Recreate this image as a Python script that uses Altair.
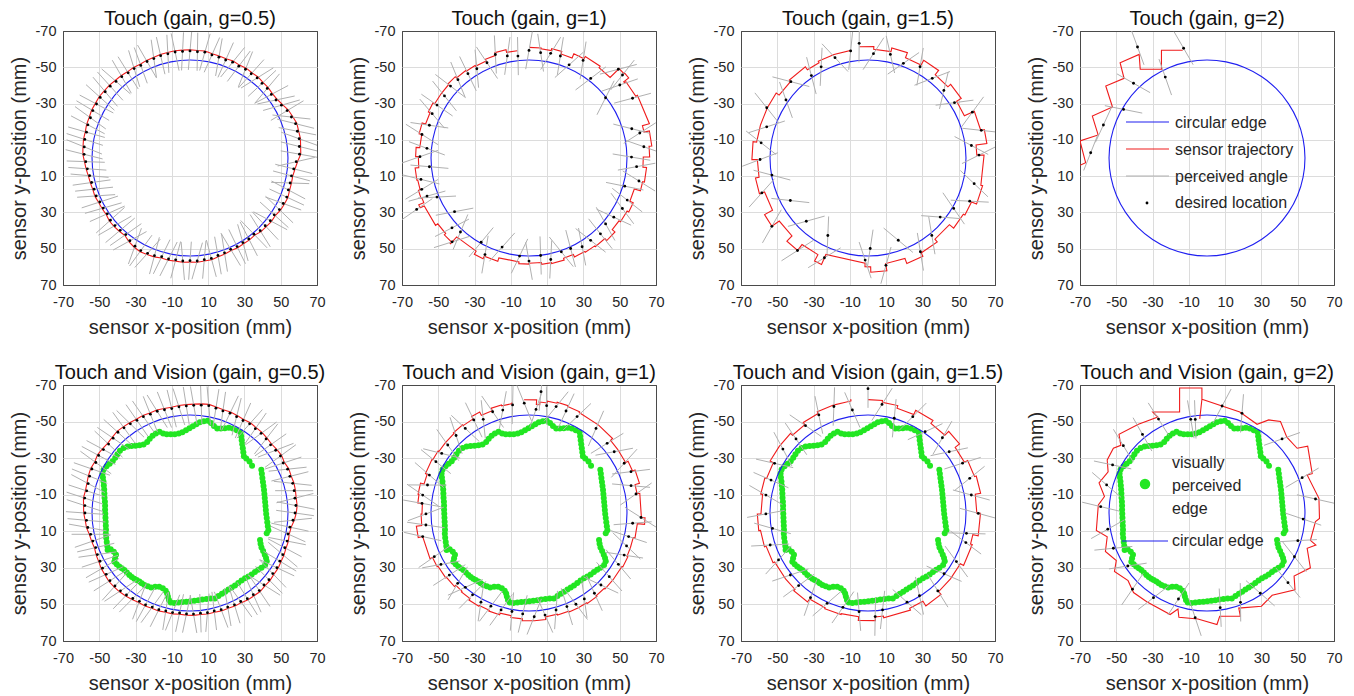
import math
import altair as alt
import pandas as pd

FONT = "Liberation Sans"
PW, PH_TOP, PH_BOT = 254, 254, 256
TICKS = [-70, -50, -30, -10, 10, 30, 50, 70]
CIRCLE_R = 54.0       # circular edge radius (mm), centred on (0, 0)
HALF_LEN = 10.5       # half length of a perceived-angle segment (mm)
START = -95.0         # angle where each sensor trajectory starts (deg)
BLUE, RED, GREY, GREEN = "#1f1ff0", "#f01c1c", "#b0b0b0", "#22e622"

TITLES = ["Touch (gain, g=0.5)", "Touch (gain, g=1)", "Touch (gain, g=1.5)", "Touch (gain, g=2)",
          "Touch and Vision (gain, g=0.5)", "Touch and Vision (gain, g=1)",
          "Touch and Vision (gain, g=1.5)", "Touch and Vision (gain, g=2)"]

# ---------------- Touch, g=0.5 : desired locations (polar, deg / mm) ----------------
T05_TH = [-90, -86, -82, -78, -74, -70, -66, -62, -58, -54, -50, -46, -42, -38, -34, -30, -26, -22, -18, -14,
          -10, -6, -2, 2, 6, 10, 14, 18, 22, 26, 30, 34, 38, 42, 46, 50, 54, 58, 62, 66,
          70, 74, 78, 82, 86, 90, 94, 98, 102, 106, 110, 114, 118, 122, 126, 130, 134, 138, 142, 146,
          150, 154, 158, 162, 166, 170, 174, 178, 182, 186, 190, 194, 198, 202, 206, 210, 214, 218, 222, 226,
          230, 234, 238, 242, 246, 250, 254, 258, 262, 266]
T05_R = [59.0, 58.7, 58.9, 58.1, 57.8, 57.5, 57.8, 57.3, 57.7, 57.4, 57.6, 57.2, 57.3, 56.9, 57.2, 58.2, 59.6, 60.3, 61.2, 61.0,
         61.1, 60.6, 60.4, 58.6, 57.5, 56.8, 56.9, 57.0, 57.5, 57.2, 56.9, 56.0, 56.2, 55.8, 55.7, 54.8, 55.1, 55.0, 55.3, 55.1,
         55.6, 55.9, 56.6, 56.6, 56.9, 56.6, 56.9, 56.7, 56.9, 56.6, 57.3, 57.5, 57.8, 57.3, 56.4, 55.1, 55.4, 55.7, 55.7, 55.0,
         55.2, 55.3, 55.8, 55.6, 55.9, 56.2, 56.9, 57.5, 58.4, 58.6, 58.9, 58.8, 59.2, 59.2, 59.6, 59.5, 59.7, 59.3, 59.2, 58.7,
         58.5, 58.0, 58.1, 57.8, 58.2, 58.3, 58.7, 58.7, 59.0, 58.9]
T05_TILT = [5, -3, 8, 12, -6, 4, 15, 9, -10, 6, 18, 3, -8, 10, 22, 14, -5, 28, 32, 25,
            30, 20, 12, -15, 8, 5, -12, 10, 3, -6, 14, 8, -10, 5, 12, -4, 9, 16, 2, -7,
            11, 6, -3, 13, 20, 4, -9, 7, 15, 10, -5, 18, 8, -12, 25, 15, 6, 12, -4, 10,
            14, 8, 18, 12, 6, 15, 10, 4, 12, 16, 8, 2, 10, 14, 5, -2, 8, 12, 6, -5,
            10, 4, 15, 8, -6, 12, 3, 9, -4, 7]

# ---------------- Touch, g=1 ----------------
T1_TH = [-90, -83.7, -78.3, -72.9, -66.7, -61, -52.2, -44.8, -41.6, -38.8, -38.2, -30, -15.9, -12.7, -5.6, -0.5, 4.6, 11.8, 16.4, 23.2,
         28.4, 34.9, 40.7, 46.7, 53.2, 59.1, 65.3, 71, 77.9, 83.2, 90, 95.5, 106.8, 114.5, 119.6, 132.5, 132.8, 137.8, 144.2, 155.4,
         157, 159.5, 163.7, 168.8, 175, 180.7, 185.4, 192.4, 198.2, 204.6, 209.9, 216.3, 222.5, 227.8, 234.1, 239.7, 246.2, 252, 258, 263.8]
T1_R = [59.3, 58.4, 58.9, 58.8, 55.9, 61.5, 55.5, 69.4, 68.9, 64.2, 53.7, 65.9, 58.9, 62.6, 63.6, 56.5, 59.5, 61.9, 55, 58.9,
        58.5, 57, 55.7, 57.4, 56.7, 57, 54.9, 54.7, 57.2, 54.1, 56.8, 54.3, 51.3, 58.5, 53.4, 62.7, 55.6, 57.3, 50.6, 68.1,
        55.1, 60, 61.6, 60.7, 55.1, 60.1, 56.5, 60.4, 57.8, 58.7, 58.5, 57.8, 58.7, 58.3, 57.4, 57, 57.4, 60, 57.5, 56.5]
T1_TRAJ = [61, 60.5, 61.5, 60, 62.5, 64, 63, 70, 70.5, 67, 68, 69, 65, 68, 66.5, 63, 65, 64, 60.5, 62.5,
           61.5, 60.5, 62.5, 61, 60.5, 60, 58.5, 59.5, 59, 58, 58.5, 57.5, 59.5, 61, 59, 64, 63, 62, 63.5, 66,
           63, 63.5, 62.5, 63, 61, 62.5, 60.5, 62, 60, 61, 60, 60, 60.5, 59.5, 59, 58.5, 59.5, 61, 59.5, 59.5]
T1_TILT = [10, -15, 20, -8, 25, -20, 15, 30, -10, 20, -25, 15, 30, -20, 25, 10, -15, 20, -5, 15,
           25, -10, 20, 5, -15, 20, 10, -20, 15, 5, -10, 20, 25, -15, 10, 30, -20, 15, 25, -10,
           20, 5, -15, 25, 10, -20, 15, 20, -10, 25, 5, 15, -5, 20, 10, 25, -10, 15, 20, 5]

# ---------------- Touch, g=1.5 ----------------
T15_TH = [-94.4, -87, -77.8, -69.5, -60.3, -51.1, -41.7, -32.6, -23.7, -13.7, -6.9, -1.5, 13.6, 23, 30.5, 39.3, 50.5, 60.8, 69.8, 80.5,
          88.6, 91.6, 113.6, 117.4, 127.3, 134.3, 144.6, 151.3, 161.8, 169.9, 179.2, 188.1, 197.1, 206.4, 215.3, 224.7, 235.5, 242.8, 251.8, 260.8]
T15_R = [63.4, 57.6, 58.4, 55.7, 57.9, 56.4, 56, 56.6, 62.8, 64.3, 57.4, 61.2, 60.2, 60.9, 54.8, 51.4, 55.3, 59.2, 48.3, 60,
         49.9, 56.3, 60, 48.1, 64.1, 48.7, 65, 48.8, 61.6, 53.8, 59.5, 59.5, 58.4, 62.3, 55.4, 59.8, 55.1, 56.5, 58.2, 59.8]
T15_TRAJ = [61.5, 60, 62, 59, 62, 59, 61, 58, 64, 66, 60, 64, 65, 62, 61, 58, 60, 62, 59, 63,
            60, 58, 64, 60, 64, 60, 65, 60, 63, 61, 64, 62, 62, 62, 60, 61, 59, 60, 60, 59.5]
T15_TILT = [5, 30, -25, 35, -20, 30, -35, 25, -30, 20, 35, -25, 30, -20, 25, -35, 30, 20, -30, 25,
            10, -20, 35, -25, 20, 30, -25, 35, -30, 25, -20, 30, -35, 25, 35, -30, 20, 30, -25, 15]

# ---------------- Touch, g=2 (cartesian, mm) ----------------
T2_X = [-64.1, -57.1, -46.0, -40.5, -38.3, -23.0, -12.9]
T2_Y = [-2.9, -18.2, -26.8, -41.2, -61.2, -44.6, -60.5]
T2_TILT = [-71, -83, -19, -16, 12, 8, -18]
T2_TRAJ_X = [-70.0, -66.9, -70.0, -60.0, -63.2, -52.1, -55.8, -45.7, -47.9, -37.4, -36.8, -25.1, -25.1, -13.4]
T2_TRAJ_Y = [4.0, 2.6, -9.4, -12.7, -23.1, -28.1, -39.7, -43.9, -52.5, -57.1, -48.9, -48.9, -59.4, -59.4]

# ---------------- Touch and Vision, g=0.5 ----------------
TV05_TH = [-88, -84, -80, -76, -72, -68, -64, -60, -56, -52, -48, -44, -40, -36, -32, -28, -24, -20, -16, -12,
           -8, -4, 0, 4, 8, 12, 16, 20, 24, 28, 32, 36, 40, 44, 48, 52, 56, 60, 64, 68,
           72, 76, 80, 84, 88, 92, 96, 100, 104, 108, 112, 116, 120, 124, 128, 132, 136, 140, 144, 148,
           152, 156, 160, 164, 168, 172, 176, 180, 184, 188, 192, 196, 200, 204, 208, 212, 216, 220, 224, 228,
           232, 236, 240, 244, 248, 252, 256, 260, 264, 268]
TV05_R = [58.9, 59.3, 59.6, 59.1, 58.7, 58.9, 58.6, 58.4, 58.8, 58.5, 58.6, 58.3, 58.0, 58.4, 58.8, 58.2, 58.9, 58.6, 58.9, 58.7,
          58.4, 58.5, 57.9, 56.9, 55.6, 55.2, 55.7, 55.6, 56.0, 56.1, 56.5, 56.4, 56.8, 56.7, 57.1, 56.7, 56.5, 55.9, 55.9, 55.5,
          55.6, 55.2, 55.4, 55.1, 55.3, 55.2, 55.0, 55.3, 55.2, 55.6, 55.5, 55.9, 55.8, 56.4, 56.9, 57.3, 57.5, 57.6, 57.1, 56.9,
          56.2, 55.9, 55.3, 55.7, 56.0, 56.9, 57.2, 57.9, 58.1, 58.6, 58.2, 58.4, 58.9, 59.2, 58.8, 59.4, 59.0, 58.6, 58.9, 59.4,
          59.1, 58.8, 58.5, 58.6, 58.3, 58.5, 58.2, 58.0, 58.4, 58.6]
TV05_TILT = [-12, -8, -15, -5, -10, 4, -12, -6, 8, -3, 12, -8, 5, 15, -4, 10, 18, 6, 22, 12,
             -6, 15, 8, -10, 4, 12, -5, 8, 16, 3, -7, 10, 5, -12, 8, 14, 2, -6, 9, 12,
             -3, 7, 15, 4, -8, 10, 6, 12, -5, 9, 14, 3, -9, 11, 6, 15, -4, 8, 12, 2,
             10, 16, 7, -3, 12, 18, 9, 4, 14, 10, 6, 12, 2, -5, 8, -4, -8, 3, -10, -6,
             2, -12, -5, -9, 0, -14, -8, -4, -12, -7]

# ---------------- Touch and Vision, g=1 ----------------
TV1_TH = [-84.3, -86.1, -92.5, -98.7, -104.4, -109.9, -116.2, -120.9, -127.2, -133.5, -140.3, -145.9, -151.3, -159.3, -164.7,
          -170.5, -174.9, 179.5, 173.4, 167.6, 155.4, 149.9, 142.3, 135.6, 130.8, 124.8, 118.5, 112.4, 106.2, 99.9,
          93.6, 87.1, 81, 74.3, 67.8, 62.6, 57, 50.6, 44.8, 38.2, 29.7, 23.7, 18.5, 13.2, 5.6,
          2.3, -10, -14.9, -21.9, -27.4, -35.5, -41.5, -51.4, -63.3, -69.9, -75.6, -80.6]
TV1_R = [66.7, 56.8, 60.1, 59.8, 58.1, 58.9, 57.1, 59.3, 58.1, 58.4, 58.2, 58.1, 58.5, 58.7, 58,
         59.4, 59.2, 56.8, 57.2, 60, 57.4, 56.1, 55.5, 55, 53.7, 54.5, 55.5, 55.1, 55.2, 54.7,
         55.3, 56.8, 56.5, 55.1, 55.3, 56.2, 56, 56.8, 55.9, 56.3, 56.7, 57.3, 56.7, 56.4, 57.4,
         61.8, 59.9, 58.2, 60.6, 59.1, 57.7, 57.5, 59.2, 59, 59.4, 60.1, 59.5]
TV1_TRAJ = [61, 59.5, 62, 61.5, 60.5, 61, 59.5, 61.5, 60, 60.5, 60, 60, 60.5, 61, 60,
            62, 61.5, 59, 59.5, 62.5, 60, 58.5, 58, 57.5, 56.5, 57, 58, 57.5, 58, 57,
            58, 59, 59, 57.5, 58, 58.5, 58.5, 59, 58.5, 59, 59, 59.5, 59, 59, 60,
            64, 62, 60.5, 63, 61.5, 60, 60, 61.5, 61.5, 62, 62.5, 62]
TV1_TILT = [0, 15, -20, 10, 25, -15, 20, 5, -10, 25, 15, -20, 10, 20, -15,
            25, 5, -20, 15, 25, -10, 20, 5, -15, 25, 10, -20, 15, 20, -5,
            10, 25, -15, 20, 5, -10, 25, 15, -20, 10, 20, -15, 25, 5, -10,
            30, -25, 20, 15, -20, 25, 10, -15, 20, 5, 25, -10]

# ---------------- Touch and Vision, g=1.5 ----------------
TV15_TH = [-90, -107.9, -98.7, -82.6, -74.4, -64.9, -54.7, -45.1, -36.8, -27.6, -18.7, -9.8, 0.2, 11.6, 16.7, 28.6, 38.4, 47.9, 57.9, 66.2,
           81.4, 86, 95.2, 105, 114.5, 124.4, 133.9, 141.6, 152.5, 162, 170.9, 179.5, -170.1, -161.4, -152.2, -143.3, -134.4, -125.8, -116.8]
TV15_R = [68, 61.2, 57, 59.9, 53.8, 58.2, 54.5, 58.1, 55.9, 58.8, 59.2, 57.8, 60.8, 55.4, 56.3, 55.5, 53.5, 57.4, 53.4, 53.3,
          53.6, 56.8, 54.2, 53.4, 54.3, 56.1, 55.1, 54.6, 55.6, 56.7, 53.3, 56.3, 57.1, 56.4, 58.2, 58.5, 56.7, 58.9, 60.1]
TV15_TRAJ = [62, 62, 63, 61, 59.5, 62, 60, 63, 60, 62, 63, 60, 62, 59, 60, 58, 58, 60, 57, 58,
             57, 59, 57, 57.5, 57, 59, 58, 58, 59, 60, 61, 59, 60, 59, 61, 61, 59.5, 61, 62]
TV15_TILT = [0, 20, -15, 25, -10, 20, 30, -15, 25, 10, -20, 25, 15, -10, 20, 25, -15, 10, 20, -25,
             15, 5, -10, 20, 25, -15, 10, 20, -20, 15, 25, -10, 20, 5, -15, 25, 10, -20, 15]

# ---------------- Touch and Vision, g=2 ----------------
TV2_TH = [-99.9, -97.2, -81.9, -70.5, -44.4, -20.2, -7.3, 3.6, 16.8, 26.4, 40.5, 56.2, 69.3, 82, 96.5,
          108.5, 122.5, 134.6, 146.4, 159.5, 170.8, -176.6, -164.5, -153.2, -141.4, -129.6, -117.5]
TV2_R = [52, 51.6, 59.1, 57.8, 57.9, 55.9, 60.3, 53.1, 52.3, 53.8, 58.7, 52.8, 52.2, 52.3, 57.6,
         49.6, 54.9, 58.5, 52.4, 55.1, 55.4, 58.7, 57.4, 58.3, 59, 55.8, 57.9]
TV2_TILT = [0, 5, 20, -15, 25, -10, 20, 15, -20, 25, 10, -15, 20, 5, -25, 15, 20, -10, 25, 15, -20, 10, 25, -15, 20, 10, -5]
TV2_TRAJ_X = [-4.0, -2.8, 18.1, 27.6, 34.0, 40.5, 44.0, 49.7, 55.5, 58.0, 55.2, 61.7, 62.0, 59.8, 57.0, 60.0, 55.2, 57.0,
              48.0, 48.5, 35.9, 30.0, 17.5, 18.4, 7.0, 5.5, -5.0, -15.5, -16.0, -20.3, -33.2, -40.5, -43.5, -51.0, -50.0,
              -56.0, -55.0, -61.0, -59.9, -56.5, -59.5, -54.5, -55.0, -51.6, -47.5, -48.5, -37.8, -27.1, -29.9, -15.1,
              -15.1, -2.8, -2.8]
TV2_TRAJ_Y = [-51.5, -62.2, -55.2, -48.5, -50.9, -50.0, -41.5, -35.4, -36.5, -21.5, -20.8, -8.0, 3.0, 4.7, 15.0, 17.5, 19.3, 30.0,
              34.5, 42.0, 45.0, 51.0, 52.0, 56.5, 56.5, 61.0, 58.0, 57.0, 52.5, 55.5, 48.5, 43.5, 37.0, 32.0, 26.0,
              21.0, 13.0, 9.5, -4.4, -9.0, -16.5, -22.5, -29.0, -35.4, -37.0, -43.0, -48.5, -52.5, -55.2, -55.2,
              -68.4, -68.4, -62.2]

# ---------------- visually perceived edge (same in all Touch-and-Vision panels) ----------------
GREEN_X = [-45.4, -45.6, -45.9, -46.2, -46.4, -46.3, -46.4, -46.5, -46.6, -46.7, -46.8, -46.8, -46.9, -47.1, -47.2, -47.3, -47.5, -47.7, -48.0, -48.2,
           -47.6, -46.0, -44.3, -42.6, -41.2, -40.0, -38.6, -36.6, -34.4, -32.2, -30.0, -27.8, -25.6, -23.6, -22.2, -20.6, -18.8, -16.8,
           -14.8, -12.8, -10.6, -8.4, -6.2, -4.2, -2.2, -0.3, 1.6, 3.5, 5.4, 7.6, 9.8, 11.6, 13.2, 15.0, 17.0, 19.2, 21.4, 23.6, 25.8, 27.9,
           28.2, 28.5, 28.8, 29.1, 29.4, 29.7, 31.0, 32.8, 34.2,
           39.3, 39.6, 39.9, 40.2, 40.5, 40.8, 41.0, 41.2, 41.4, 41.6, 41.8, 42.0, 42.3, 42.6, 42.9, 43.2, 42.3,
           38.6, 38.9, 39.4, 40.3, 41.2, 41.9, 42.3, 41.4,
           39.4, 37.6, 35.8, 34.0, 32.2, 30.3, 28.4, 26.6, 24.8, 23.0, 21.2, 19.4, 17.6, 15.7, 13.7,
           11.4, 9.1, 6.8, 4.6, 2.4, 0.2, -2.0, -4.2, -6.4, -8.6, -10.6,
           -11.6, -12.2, -12.6, -13.4, -15.0, -17.0, -19.2, -21.4, -23.3, -25.1, -26.6, -27.9, -29.4, -30.7, -32.1, -33.4,
           -34.8, -36.2, -37.6, -39.0, -40.4, -41.7, -41.3, -40.8, -42.0, -43.7]
GREEN_Y = [20.2, 18.0, 15.8, 13.6, 11.4, 9.2, 7.0, 4.8, 2.6, 0.4, -1.8, -4.0, -6.2, -8.4, -10.6, -12.8, -15.0, -17.2, -19.4, -21.6,
           -23.8, -25.6, -27.0, -28.3, -30.2, -32.1, -34.0, -35.6, -36.3, -36.6, -36.8, -37.0, -37.5, -38.8, -40.6, -42.2, -43.5, -44.5,
           -43.5, -43.0, -43.0, -43.1, -43.5, -44.2, -45.2, -46.3, -47.4, -48.5, -49.6, -50.2, -50.4, -49.2, -47.6, -46.2, -46.2, -46.4, -46.6, -46.2, -45.2, -44.1,
           -42.0, -39.8, -37.6, -35.4, -33.2, -31.0, -29.8, -28.2, -25.8,
           -23.6, -21.4, -19.2, -17.0, -14.8, -12.6, -10.4, -8.2, -6.0, -3.8, -1.6, 0.6, 2.8, 5.0, 7.2, 9.4, 11.1,
           14.8, 16.8, 18.8, 20.8, 22.8, 24.6, 26.4, 28.4,
           29.9, 31.1, 32.2, 33.6, 34.7, 35.7, 36.9, 38.3, 39.7, 40.7, 41.9, 43.0, 44.1, 45.4, 46.7,
           46.8, 47.0, 47.3, 47.7, 48.0, 48.3, 48.5, 48.7, 48.9, 49.2, 49.0,
           47.6, 45.7, 44.0, 42.5, 41.2, 40.4, 40.4, 40.8, 40.0, 39.4, 38.4, 37.5, 36.7, 36.0, 35.0, 33.9,
           32.6, 31.2, 30.2, 29.3, 28.0, 26.6, 24.8, 22.9, 21.2, 19.8]

# ---------------- helpers ----------------
LABEL_EXPR = "datum.value < 0 ? '-' + format(-datum.value, 'd') : format(datum.value, 'd')"
GRID_COLOR = {"condition": {"test": "abs(datum.value) == 70", "value": "#4a4a4a"}, "value": "#dcdcdc"}
XS = alt.Scale(domain=[-70, 70], nice=False, zero=False)
YS = alt.Scale(domain=[-70, 70], nice=False, zero=False, reverse=True)
XAX = alt.Axis(values=TICKS, title="sensor x-position (mm)", labelExpr=LABEL_EXPR, grid=True, ticks=False,
               domain=False, labelFlush=False, labelPadding=10, titlePadding=9, gridColor=GRID_COLOR)
YAX = alt.Axis(values=TICKS, title="sensor y-position (mm)", labelExpr=LABEL_EXPR, grid=True, ticks=False,
               domain=False, labelFlush=False, labelPadding=7, titlePadding=6, gridColor=GRID_COLOR)
ONE = pd.DataFrame({"k": [0]})


def X(f):
    return alt.X(f, type="quantitative", scale=XS, axis=XAX)


def Y(f):
    return alt.Y(f, type="quantitative", scale=YS, axis=YAX)


def polar_xy(th, r):
    xs = [ri * math.cos(math.radians(t)) for t, ri in zip(th, r)]
    ys = [ri * math.sin(math.radians(t)) for t, ri in zip(th, r)]
    return xs, ys


def seg_df(xs, ys, tilt):
    rows = []
    for x, y, t in zip(xs, ys, tilt):
        phi = math.atan2(y, x) + math.radians(t)
        dx, dy = HALF_LEN * math.cos(phi), HALF_LEN * math.sin(phi)
        rows.append({"x1": x - dx, "y1": y - dy, "x2": x + dx, "y2": y + dy})
    return pd.DataFrame(rows)


def stair_df(th, tr):
    order = sorted(range(len(th)), key=lambda i: (th[i] - START) % 360)
    pts = []
    for k, i in enumerate(order):
        a = math.radians(th[i])
        pts.append((tr[i] * math.cos(a), tr[i] * math.sin(a)))
        if k + 1 < len(order):
            b = math.radians(th[order[k + 1]])
            pts.append((tr[i] * math.cos(b), tr[i] * math.sin(b)))
    return pd.DataFrame({"x": [p[0] for p in pts], "y": [p[1] for p in pts], "i": list(range(len(pts)))})


def smooth_df(th, r, off=0.7):
    order = sorted(range(len(th)), key=lambda i: (th[i] - START) % 360)
    order = order + order[:1]
    xs = [(r[i] + off) * math.cos(math.radians(th[i])) for i in order]
    ys = [(r[i] + off) * math.sin(math.radians(th[i])) for i in order]
    return pd.DataFrame({"x": xs, "y": ys, "i": list(range(len(xs)))})


def path_df(xs, ys):
    return pd.DataFrame({"x": xs, "y": ys, "i": list(range(len(xs)))})


def legend_line(x0, x1, y, color):
    return alt.Chart(ONE).mark_rule(color=color, strokeWidth=1.2).encode(
        x=alt.value(x0), x2=alt.value(x1), y=alt.value(y))


def legend_text(x, y, text):
    return alt.Chart(ONE).mark_text(align="left", baseline="middle", font=FONT, fontSize=16,
                                    color="#262626").encode(x=alt.value(x), y=alt.value(y), text=alt.value(text))


def panel(title, ph, dots_x, dots_y, tilt, traj, green=False, legend=None):
    rpx = CIRCLE_R * PW / 140.0
    layers = []
    if green:
        layers.append(alt.Chart(pd.DataFrame({"x": GREEN_X, "y": GREEN_Y})).mark_circle(
            color=GREEN, size=36, opacity=1, clip=True).encode(x=X("x"), y=Y("y")))
    layers.append(alt.Chart(ONE).mark_arc(color=BLUE, radius=rpx + 0.55, radius2=rpx - 0.55,
                                          theta=0, theta2=2 * math.pi))
    layers.append(alt.Chart(traj).mark_line(color=RED, strokeWidth=1.1, clip=True).encode(
        x=X("x"), y=Y("y"), order="i:Q"))
    layers.append(alt.Chart(seg_df(dots_x, dots_y, tilt)).mark_rule(color=GREY, strokeWidth=1, clip=True).encode(
        x=X("x1"), y=Y("y1"), x2="x2:Q", y2="y2:Q"))
    layers.append(alt.Chart(pd.DataFrame({"x": dots_x, "y": dots_y})).mark_circle(
        color="black", size=8, opacity=1, clip=True).encode(x=X("x"), y=Y("y")))
    if legend == "touch":
        layers += [legend_line(46, 89, 91, BLUE), legend_text(95, 92, "circular edge"),
                   legend_line(46, 89, 118, RED), legend_text(95, 119, "sensor trajectory"),
                   legend_line(46, 89, 145, GREY), legend_text(95, 146, "perceived angle"),
                   alt.Chart(ONE).mark_circle(color="black", size=8, opacity=1).encode(
                       x=alt.value(67), y=alt.value(172)),
                   legend_text(95, 172, "desired location")]
    if legend == "vision":
        layers += [alt.Chart(ONE).mark_circle(color=GREEN, size=110, opacity=1).encode(
                       x=alt.value(65), y=alt.value(99)),
                   legend_text(92, 78, "visually"), legend_text(92, 101, "perceived"),
                   legend_text(92, 124, "edge"),
                   legend_line(42, 88, 156, BLUE), legend_text(92, 156, "circular edge")]
    return alt.layer(*layers).properties(
        width=PW, height=ph,
        title=alt.TitleParams(title, font=FONT, fontSize=20, fontWeight="normal", color="#111111",
                              offset=-6, frame="group"))


x05, y05 = polar_xy(T05_TH, T05_R)
x1, y1 = polar_xy(T1_TH, T1_R)
x15, y15 = polar_xy(T15_TH, T15_R)
vx05, vy05 = polar_xy(TV05_TH, TV05_R)
vx1, vy1 = polar_xy(TV1_TH, TV1_R)
vx15, vy15 = polar_xy(TV15_TH, TV15_R)
vx2, vy2 = polar_xy(TV2_TH, TV2_R)

top = [
    panel(TITLES[0], PH_TOP, x05, y05, T05_TILT, smooth_df(T05_TH, T05_R)),
    panel(TITLES[1], PH_TOP, x1, y1, T1_TILT, stair_df(T1_TH, T1_TRAJ)),
    panel(TITLES[2], PH_TOP, x15, y15, T15_TILT, stair_df(T15_TH, T15_TRAJ)),
    panel(TITLES[3], PH_TOP, T2_X, T2_Y, T2_TILT, path_df(T2_TRAJ_X, T2_TRAJ_Y), legend="touch"),
]
bottom = [
    panel(TITLES[4], PH_BOT, vx05, vy05, TV05_TILT, smooth_df(TV05_TH, TV05_R), green=True),
    panel(TITLES[5], PH_BOT, vx1, vy1, TV1_TILT, stair_df(TV1_TH, TV1_TRAJ), green=True),
    panel(TITLES[6], PH_BOT, vx15, vy15, TV15_TILT, stair_df(TV15_TH, TV15_TRAJ), green=True),
    panel(TITLES[7], PH_BOT, vx2, vy2, TV2_TILT, path_df(TV2_TRAJ_X, TV2_TRAJ_Y), green=True, legend="vision"),
]

chart = alt.vconcat(
    alt.hconcat(*top, spacing=21),
    alt.hconcat(*bottom, spacing=21),
    spacing=24,
).properties(
    padding={"left": 0, "top": 0, "right": 0, "bottom": 0}
).configure_view(
    stroke="#4a4a4a", strokeWidth=1
).configure_axis(
    labelFont=FONT, titleFont=FONT, labelFontSize=14.5, titleFontSize=20,
    labelColor="#262626", titleColor="#262626", titleFontWeight="normal", gridWidth=1
)

chart.save("out.html", embed_options={"renderer": "svg", "actions": False})
